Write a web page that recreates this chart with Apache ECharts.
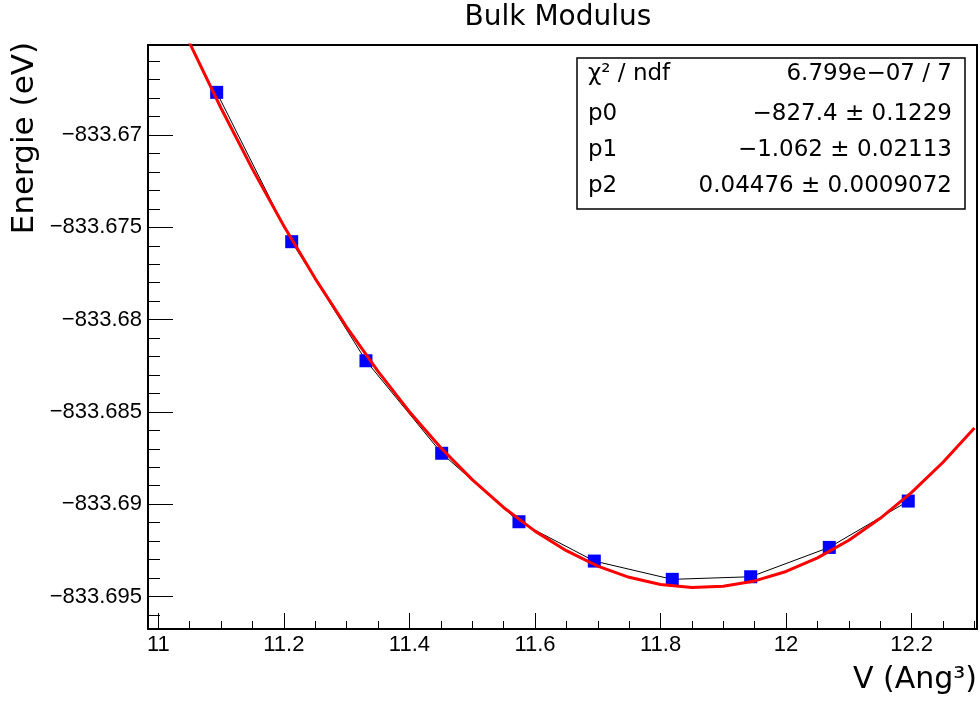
<!DOCTYPE html>
<html>
<head>
<meta charset="utf-8">
<script src="https://cdn.jsdelivr.net/npm/echarts@6/dist/echarts.min.js"></script>
<style>
  html, body { margin: 0; padding: 0; background: #fff; }
  #main { width: 980px; height: 708px; }
</style>
</head>
<body>
<div id="main"></div>
<script>
// measured points: volume (Ang^3) and energy (eV)
const vData = [11.0930, 11.2125, 11.3308, 11.4514, 11.5745, 11.6945, 11.8187, 11.9436, 12.0688, 12.1946];
const eData = [-833.66769, -833.67578, -833.68223, -833.68724, -833.69095, -833.69308, -833.69407, -833.69393, -833.69234, -833.68983];

// fitted curve, every 0.05 in V
const fitV = [11.0, 11.05, 11.1, 11.15, 11.2, 11.25, 11.3, 11.35, 11.4, 11.45, 11.5, 11.55, 11.6, 11.65,
  11.7, 11.75, 11.8, 11.85, 11.9, 11.95, 12.0, 12.05, 12.1, 12.15, 12.2, 12.25, 12.3];
const fitE = [-833.661278, -833.665026, -833.668550, -833.671850, -833.674925, -833.677777, -833.680404,
  -833.682807, -833.684986, -833.686940, -833.688671, -833.690177, -833.691459, -833.692517,
  -833.693351, -833.693960, -833.694345, -833.694507, -833.694444, -833.694156, -833.693645,
  -833.692909, -833.691950, -833.690766, -833.689357, -833.687725, -833.685869];

// axes
const xMin = 10.9836, xMax = 12.3041;
const yMin = -833.69676, yMax = -833.665125;
const xTicks = [11, 11.2, 11.4, 11.6, 11.8, 12, 12.2];
const xTickLabels = ['11', '11.2', '11.4', '11.6', '11.8', '12', '12.2'];
const yTicks = [-833.67, -833.675, -833.68, -833.685, -833.69, -833.695];
const yTickLabels = ['\u2212833.67', '\u2212833.675', '\u2212833.68', '\u2212833.685', '\u2212833.69', '\u2212833.695'];

// fit box
const statNames = ['\u03c7\u00b2 / ndf', 'p0', 'p1', 'p2'];
const statValues = ['6.799e\u221207 / 7', '\u2212827.4 \u00b1 0.1229', '\u22121.062 \u00b1 0.02113', '0.04476 \u00b1 0.0009072'];

// minor ticks
const xMinor = [];
for (let k = 1; k <= 26; k++) {
  if (k % 4 !== 0) xMinor.push(Number((11 + 0.05 * k).toFixed(3)));
}
const yMinor = [];
for (let k = -26; k <= 4; k++) {
  if (k % 5 !== 0) yMinor.push(Number((-833.67 + 0.001 * k).toFixed(4)));
}

function pickLabel(ticks, labels) {
  return function (v) {
    for (let i = 0; i < ticks.length; i++) {
      if (Math.abs(ticks[i] - v) < 1e-7) return labels[i];
    }
    return '';
  };
}

const tickFont = { fontFamily: 'Liberation Sans', fontSize: 22, color: '#000' };

const chart = echarts.init(document.getElementById('main'));

const graphic = [
  { type: 'text', x: 558, y: 18, z: 100,
    style: { text: 'Bulk Modulus', fontFamily: 'DejaVu Sans', fontSize: 28, fill: '#000',
      textAlign: 'center', align: 'center', textVerticalAlign: 'middle', verticalAlign: 'middle' } },
  { type: 'text', x: 977, y: 680, z: 100,
    style: { text: 'V (Ang\u00b3)', fontFamily: 'DejaVu Sans', fontSize: 30, fill: '#000',
      textAlign: 'right', align: 'right', textVerticalAlign: 'middle', verticalAlign: 'middle' } },
  { type: 'text', x: 25, y: 42, rotation: Math.PI / 2, z: 100,
    style: { text: 'Energie (eV)', fontFamily: 'DejaVu Sans', fontSize: 31, fill: '#000',
      textAlign: 'right', align: 'right', textVerticalAlign: 'middle', verticalAlign: 'middle' } },
  { type: 'rect', z: 100, shape: { x: 577, y: 58, width: 388, height: 151 },
    style: { fill: '#fff', stroke: '#000', lineWidth: 1.5 } }
];
const rowY = [74, 114, 150, 186];
statNames.forEach(function (name, i) {
  graphic.push({ type: 'text', x: 588, y: rowY[i], z: 101,
    style: { text: name, fontFamily: 'DejaVu Sans', fontSize: 23, fill: '#000',
      textAlign: 'left', align: 'left', textVerticalAlign: 'middle', verticalAlign: 'middle' } });
  graphic.push({ type: 'text', x: 952, y: rowY[i], z: 101,
    style: { text: statValues[i], fontFamily: 'DejaVu Sans', fontSize: 23, fill: '#000',
      textAlign: 'right', align: 'right', textVerticalAlign: 'middle', verticalAlign: 'middle' } });
});

chart.setOption({
  animation: false,
  backgroundColor: '#fff',
  grid: { left: 148, right: 3, top: 45, bottom: 79, show: true, borderColor: '#000', borderWidth: 2 },
  xAxis: [
    {
      type: 'value', min: xMin, max: xMax, position: 'bottom',
      axisLine: { show: true, lineStyle: { color: '#000', width: 2 } },
      axisTick: { show: true, inside: true, length: 16, customValues: xTicks, lineStyle: { color: '#000', width: 1 } },
      axisLabel: Object.assign({ customValues: xTicks, margin: 5, formatter: pickLabel(xTicks, xTickLabels) }, tickFont),
      splitLine: { show: false }
    },
    {
      type: 'value', min: xMin, max: xMax, position: 'bottom',
      axisLine: { show: false },
      axisTick: { show: true, inside: true, length: 8, customValues: xMinor, lineStyle: { color: '#000', width: 1 } },
      axisLabel: { show: false },
      splitLine: { show: false }
    }
  ],
  yAxis: [
    {
      type: 'value', min: yMin, max: yMax, position: 'left',
      axisLine: { show: true, lineStyle: { color: '#000', width: 2 } },
      axisTick: { show: true, inside: true, length: 25, customValues: yTicks, lineStyle: { color: '#000', width: 1 } },
      axisLabel: Object.assign({ customValues: yTicks, margin: 6, formatter: pickLabel(yTicks, yTickLabels) }, tickFont),
      splitLine: { show: false }
    },
    {
      type: 'value', min: yMin, max: yMax, position: 'left',
      axisLine: { show: false },
      axisTick: { show: true, inside: true, length: 12, customValues: yMinor, lineStyle: { color: '#000', width: 1 } },
      axisLabel: { show: false },
      splitLine: { show: false }
    }
  ],
  series: [
    {
      name: 'data', type: 'line', xAxisIndex: 0, yAxisIndex: 0,
      data: vData.map(function (v, i) { return [v, eData[i]]; }),
      symbol: 'rect', symbolSize: 13,
      itemStyle: { color: '#0000ff' },
      lineStyle: { color: '#000', width: 1 },
      z: 2
    },
    {
      name: 'fit', type: 'line', xAxisIndex: 0, yAxisIndex: 0,
      data: fitV.map(function (v, i) { return [v, fitE[i]]; }),
      symbol: 'none', smooth: false, clip: true,
      lineStyle: { color: '#ff0000', width: 3 },
      z: 3
    }
  ],
  graphic: graphic
});
</script>
</body>
</html>
